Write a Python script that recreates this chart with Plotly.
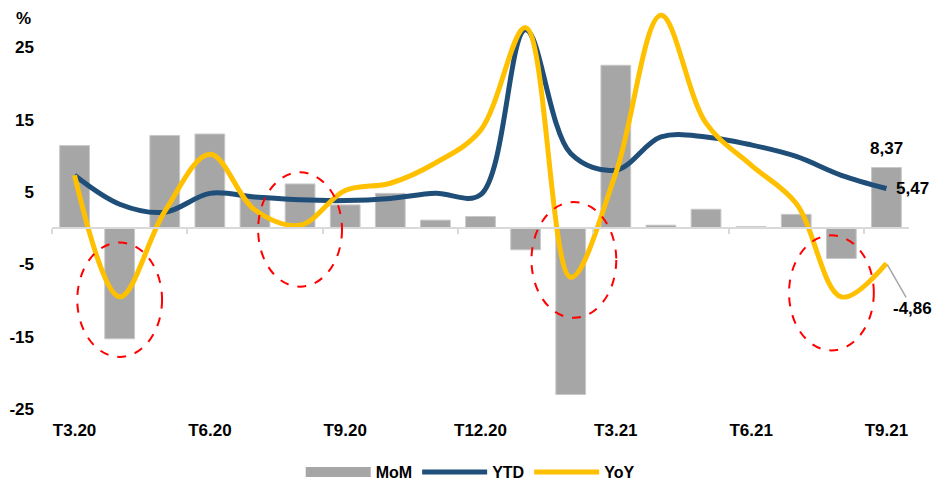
import plotly.graph_objects as go

months = ["T3.20", "T4.20", "T5.20", "T6.20", "T7.20", "T8.20", "T9.20", "T10.20",
          "T11.20", "T12.20", "T1.21", "T2.21", "T3.21", "T4.21", "T5.21", "T6.21",
          "T7.21", "T8.21", "T9.21"]
mom = [11.4, -15.3, 12.8, 13.0, 4.2, 6.1, 3.2, 4.8, 1.1, 1.6, -3.0, -23.0, 22.5,
       0.4, 2.6, 0.2, 1.9, -4.2, 8.37]
ytd = [7.3, 3.3, 2.2, 4.8, 4.3, 3.9, 3.8, 4.1, 4.8, 4.6, 27.4, 10.3, 8.0, 12.6,
       12.6, 11.5, 9.9, 7.3, 5.47]
yoy = [7.3, -9.5, 2.3, 10.2, 2.5, 0.4, 5.2, 6.2, 9.0, 13.5, 27.7, -6.8, 7.6, 29.4,
       14.5, 8.7, 3.4, -9.5, -4.86]
tick_labels = ["T3.20", "T6.20", "T9.20", "T12.20", "T3.21", "T6.21", "T9.21"]
y_ticks = [-25, -15, -5, 5, 15, 25]
y_tick_text = ["-25", "-15", "-5", "5", "15", "25"]
# highlighted zones: (x from, x to) in category index, (y from, y to) in %
zones = [(0.06, 1.94, -17.8, -2.0), (4.07, 5.93, -8.1, 7.7),
         (10.13, 12.01, -12.4, 3.6), (15.84, 17.72, -16.9, -1.0)]

FONT = "Liberation Sans, Arial, sans-serif"
bold = dict(family=FONT, size=17, color="black", weight="bold")
GRAY = "#a6a6a6"

fig = go.Figure()
fig.add_trace(go.Bar(x=months, y=mom, name="MoM", showlegend=False,
                     marker=dict(color=GRAY, line=dict(color="#c8c8c8", width=1))))
fig.add_trace(go.Scatter(x=months, y=ytd, name="YTD", mode="lines",
                         line=dict(color="#1f4e79", width=5, shape="spline", smoothing=1)))
fig.add_trace(go.Scatter(x=months, y=yoy, name="YoY", mode="lines",
                         line=dict(color="#ffc000", width=5, shape="spline", smoothing=1)))
# legend key for the MoM bars (wide gray band, as in the original legend)
fig.add_trace(go.Scatter(x=[None], y=[None], name="MoM", mode="lines",
                         line=dict(color=GRAY, width=10), legendrank=1))
# carrier for the zero-line axis with boundary ticks
fig.add_trace(go.Scatter(x=[], y=[], xaxis="x2", showlegend=False, hoverinfo="skip"))

shapes = []
for x0, x1, y0, y1 in zones:
    shapes.append(dict(type="circle", xref="x", yref="y", x0=x0, x1=x1,
                       y0=y0, y1=y1, line=dict(color="#ff0000", width=2, dash="dash"),
                       layer="above"))

n = len(months)
boundaries = [i - 0.5 for i in range(0, n, 3)]

fig.update_layout(
    width=935, height=485,
    margin=dict(l=52, r=26, t=11, b=76, autoexpand=False),
    plot_bgcolor="white", paper_bgcolor="white",
    bargap=0.34,
    font=bold,
    showlegend=True,
    legend=dict(orientation="h", xref="paper", x=0.488, xanchor="center",
                yref="container", y=13 / 485, yanchor="middle",
                font=dict(family=FONT, size=16, color="black", weight="bold"),
                itemwidth=65, traceorder="normal"),
    xaxis=dict(type="category", categoryorder="array", categoryarray=months,
               range=[-0.5, n - 0.5], tickvals=tick_labels, ticktext=tick_labels,
               showgrid=False, showline=False, zeroline=False, ticks="",
               ticklabelstandoff=9, tickfont=bold, automargin=False),
    xaxis2=dict(overlaying="x", anchor="free", position=25 / 55, range=[-0.5, n - 0.5],
                showline=True, linecolor="#d9d9d9", linewidth=1.5, ticks="outside",
                ticklen=5, tickcolor="#d9d9d9", tickwidth=1.5, tickvals=boundaries,
                showticklabels=False, showgrid=False, zeroline=False, automargin=False),
    yaxis=dict(range=[-25, 30], tickvals=y_ticks, ticktext=y_tick_text, showgrid=False,
               zeroline=False, showline=False, ticks="", ticklabelstandoff=17,
               tickfont=bold, automargin=False),
    shapes=shapes,
    hovermode=False,
)

fig.add_annotation(x=0.0, y=1.0, xref="paper", yref="paper", text="%", showarrow=False,
                   xanchor="center", yanchor="middle", xshift=-29, yshift=-7, font=bold)
fig.add_annotation(x=months[-1], y=mom[-1], text=f"{mom[-1]:.2f}".replace(".", ","),
                   showarrow=False, yanchor="bottom", yshift=8, font=bold)
fig.add_annotation(x=months[-1], y=ytd[-1], text=f"{ytd[-1]:.2f}".replace(".", ","),
                   showarrow=False, xanchor="left", xshift=8, font=bold)
fig.add_annotation(x=months[-1], y=yoy[-1], text=f"{yoy[-1]:.2f}".replace(".", ","),
                   showarrow=True, arrowhead=0, arrowcolor=GRAY, arrowwidth=1.5,
                   ax=26, ay=45, standoff=2, font=bold)

fig.write_html("out.html", config={"displayModeBar": False},
               post_script="document.body.style.margin='0';document.body.style.overflow='hidden';")
